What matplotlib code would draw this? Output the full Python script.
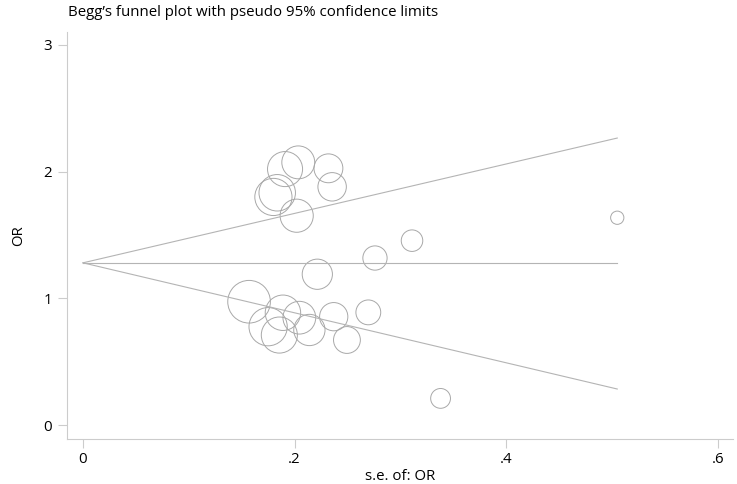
import numpy as np
import matplotlib
matplotlib.use("Agg")
import matplotlib.pyplot as plt

plt.rcParams['font.family'] = ['Open Sans', 'DejaVu Sans']

# study estimates: standard error and odds ratio
se = [0.191, 0.2035, 0.232, 0.2355, 0.180, 0.1836, 0.202,
      0.2215, 0.276, 0.311, 0.505,
      0.157, 0.189, 0.2045, 0.237, 0.2697, 0.175, 0.1856, 0.214, 0.2495, 0.338]
odds = [2.02, 2.073, 2.026, 1.88, 1.80, 1.833, 1.652,
        1.19, 1.318, 1.455, 1.636,
        0.973, 0.886, 0.847, 0.855, 0.889, 0.776, 0.71, 0.75, 0.671, 0.21]

# pooled estimate and pseudo 95% limits (end points)
line_se = [0, 0.505]
pooled = [1.28, 1.28]
upper = [1.28, 2.265]
lower = [1.28, 0.284]

xticks = [0, 0.2, 0.4, 0.6]
xticklabels = ['0', '.2', '.4', '.6']
yticks = [0, 1, 2, 3]

fig = plt.figure(figsize=(7.37, 4.84), dpi=100)
ax = fig.add_axes([67/737, 45/484, 666/737, 407/484])

line_col = '#b4b4b4'
ax.plot(line_se, pooled, color=line_col, lw=0.8)
ax.plot(line_se, upper, color=line_col, lw=0.8)
ax.plot(line_se, lower, color=line_col, lw=0.8)

# marker size grows with weight (1/se^2)
sizes = [(4.82 / s) ** 2 for s in se]
ax.scatter(se, odds, s=sizes, facecolors='none', edgecolors='#a8a8a8', linewidths=0.7)

ax.set_xlim(-0.0151, 0.6144)
ax.set_ylim(-0.1105, 3.102)
ax.set_xticks(xticks)
ax.set_xticklabels(xticklabels)
ax.set_yticks(yticks)

for side in ['top', 'right']:
    ax.spines[side].set_visible(False)
for side in ['left', 'bottom']:
    ax.spines[side].set_color('#cccccc')
    ax.spines[side].set_linewidth(0.8)
ax.tick_params(axis='both', colors='#cccccc', length=6.5, width=0.8,
               labelcolor='black', labelsize=10.8)
ax.tick_params(axis='y', pad=4.5)
ax.tick_params(axis='x', pad=3)

ax.set_xlabel('s.e. of: OR', fontsize=10.8, labelpad=1.5)
ax.set_ylabel('OR', fontsize=10.8, labelpad=12)
fig.text(68/737, 1 - 13/484, 'Begg\u2019s funnel plot with pseudo 95% confidence limits',
         fontsize=10.8, ha='left', va='center')

fig.savefig('out.png', dpi=100)
